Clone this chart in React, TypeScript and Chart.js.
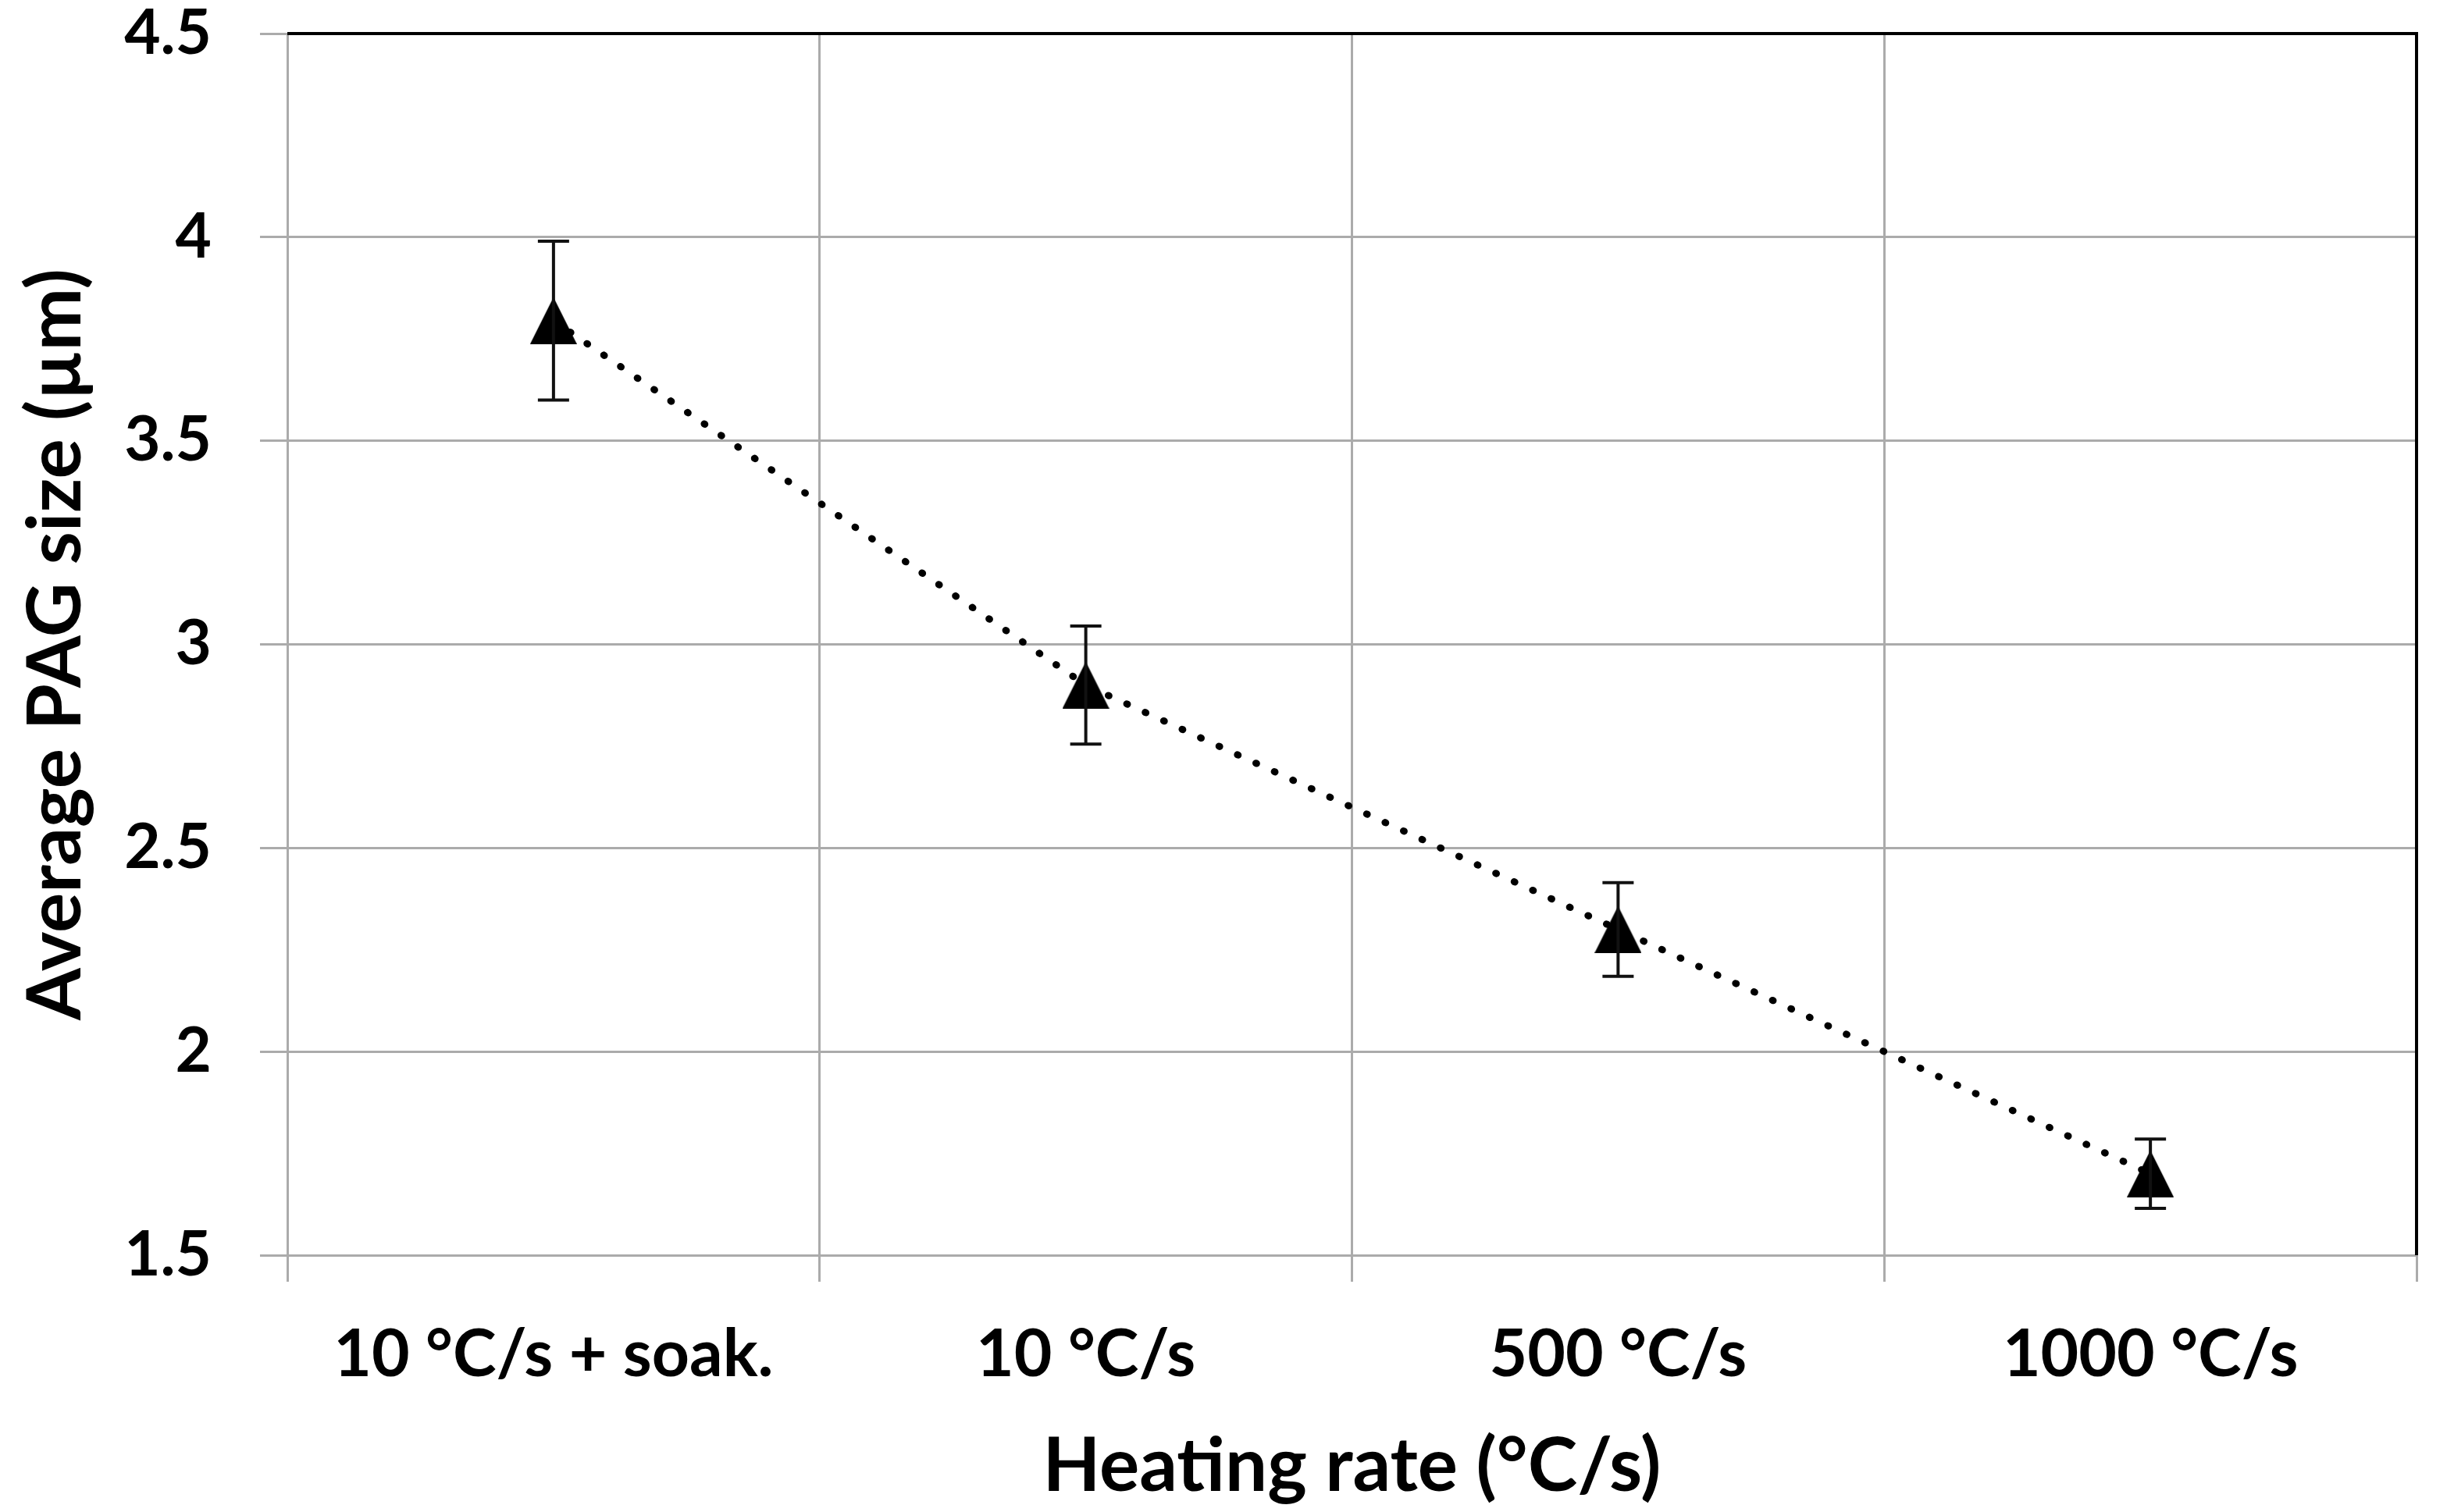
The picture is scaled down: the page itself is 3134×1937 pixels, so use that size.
import React, { useEffect, useRef } from "react";
import { Chart, registerables } from "chart.js";

Chart.register(...registerables);

const categories = ["10 °C/s + soak.", "10 °C/s", "500 °C/s", "1000 °C/s"];
const meanSize = [3.795, 2.9, 2.3, 1.7];
const errorSize = [0.195, 0.145, 0.115, 0.085];
const yTicks = [1.5, 2, 2.5, 3, 3.5, 4, 4.5];
const xTitle = "Heating rate (°C/s)";
const yTitle = "Average PAG size (µm)";

const FONT = "Lato, 'Open Sans', 'DejaVu Sans', sans-serif";
const GRID = "#ababab";

function makeTriangle(): HTMLCanvasElement {
  const c = document.createElement("canvas");
  c.width = 60;
  c.height = 60;
  const g = c.getContext("2d")!;
  g.fillStyle = "#000";
  g.beginPath();
  g.moveTo(30, 0);
  g.lineTo(60, 60);
  g.lineTo(0, 60);
  g.closePath();
  g.fill();
  return c;
}

const errorBars = {
  id: "errorBars",
  afterDatasetsDraw(chart: any) {
    const meta = chart.getDatasetMeta(0);
    const ys = chart.scales.y;
    const ctx = chart.ctx;
    ctx.save();
    ctx.strokeStyle = "#111";
    ctx.lineWidth = 4;
    meta.data.forEach((pt: any, i: number) => {
      const x = pt.x;
      const yTop = ys.getPixelForValue(meanSize[i] + errorSize[i]);
      const yBot = ys.getPixelForValue(meanSize[i] - errorSize[i]);
      ctx.beginPath();
      ctx.moveTo(x, yTop);
      ctx.lineTo(x, yBot);
      ctx.moveTo(x - 20, yTop);
      ctx.lineTo(x + 20, yTop);
      ctx.moveTo(x - 20, yBot);
      ctx.lineTo(x + 20, yBot);
      ctx.stroke();
    });
    ctx.restore();
  },
};

const frame = {
  id: "frame",
  afterDraw(chart: any) {
    const { ctx, chartArea } = chart;
    ctx.save();
    ctx.strokeStyle = "#000";
    ctx.lineWidth = 4;
    ctx.beginPath();
    ctx.moveTo(chartArea.left, chartArea.top);
    ctx.lineTo(chartArea.right, chartArea.top);
    ctx.lineTo(chartArea.right, chartArea.bottom);
    ctx.stroke();
    ctx.restore();
  },
};

export default function App() {
  const ref = useRef<HTMLCanvasElement | null>(null);

  useEffect(() => {
    if (!ref.current) return;
    const tri = makeTriangle();
    const chart = new Chart(ref.current, {
      type: "line",
      data: {
        labels: categories,
        datasets: [
          {
            data: meanSize,
            borderColor: "#000",
            borderWidth: 9,
            borderDash: [1, 25],
            borderCapStyle: "round",
            pointStyle: tri as any,
            pointRadius: 30,
            pointHoverRadius: 30,
            tension: 0,
            fill: false,
          },
        ],
      },
      options: {
        animation: false,
        responsive: true,
        maintainAspectRatio: false,
        devicePixelRatio: 1,
        layout: { padding: { top: 43, right: 39, left: 0, bottom: 0 } },
        plugins: {
          legend: { display: false },
          tooltip: { enabled: false },
        },
        scales: {
          x: {
            type: "category",
            offset: true,
            grid: {
              offset: true,
              color: GRID,
              lineWidth: 3,
              tickLength: 34,
              drawTicks: true,
            },
            border: { color: GRID, width: 3 },
            ticks: {
              color: "#000",
              padding: 52,
              maxRotation: 0,
              autoSkip: false,
              font: { family: FONT, size: 84, weight: "bold", lineHeight: 1 },
            },
            title: {
              display: true,
              text: xTitle,
              color: "#000",
              padding: { top: 0, bottom: 0 },
              font: { family: FONT, size: 96, weight: "bold" },
            },
            afterFit(scale: any) {
              scale.height = 1937 - 1608;
              scale.paddingLeft = 0;
              scale.paddingRight = 0;
            },
          },
          y: {
            min: 1.5,
            max: 4.5,
            grid: {
              color: GRID,
              lineWidth: 3,
              tickLength: 35,
            },
            border: { color: GRID, width: 3 },
            afterBuildTicks(scale: any) {
              scale.ticks = yTicks.map((v) => ({ value: v }));
            },
            ticks: {
              color: "#000",
              padding: 62,
              callback: (v: any) => String(v),
              font: { family: FONT, size: 80, weight: "bold", lineHeight: 1 },
            },
            title: {
              display: true,
              text: yTitle,
              color: "#000",
              padding: { top: 14, bottom: 0 },
              font: { family: FONT, size: 96, weight: "bold" },
            },
            afterFit(scale: any) {
              scale.width = 368;
              scale.paddingTop = 0;
              scale.paddingBottom = 0;
            },
          },
        },
      },
      plugins: [errorBars, frame],
    });
    return () => chart.destroy();
  }, []);

  return (
    <div
      style={{
        position: "absolute",
        left: 0,
        top: 0,
        width: 3134,
        height: 1937,
        background: "#fff",
      }}
    >
      <canvas ref={ref} />
    </div>
  );
}
